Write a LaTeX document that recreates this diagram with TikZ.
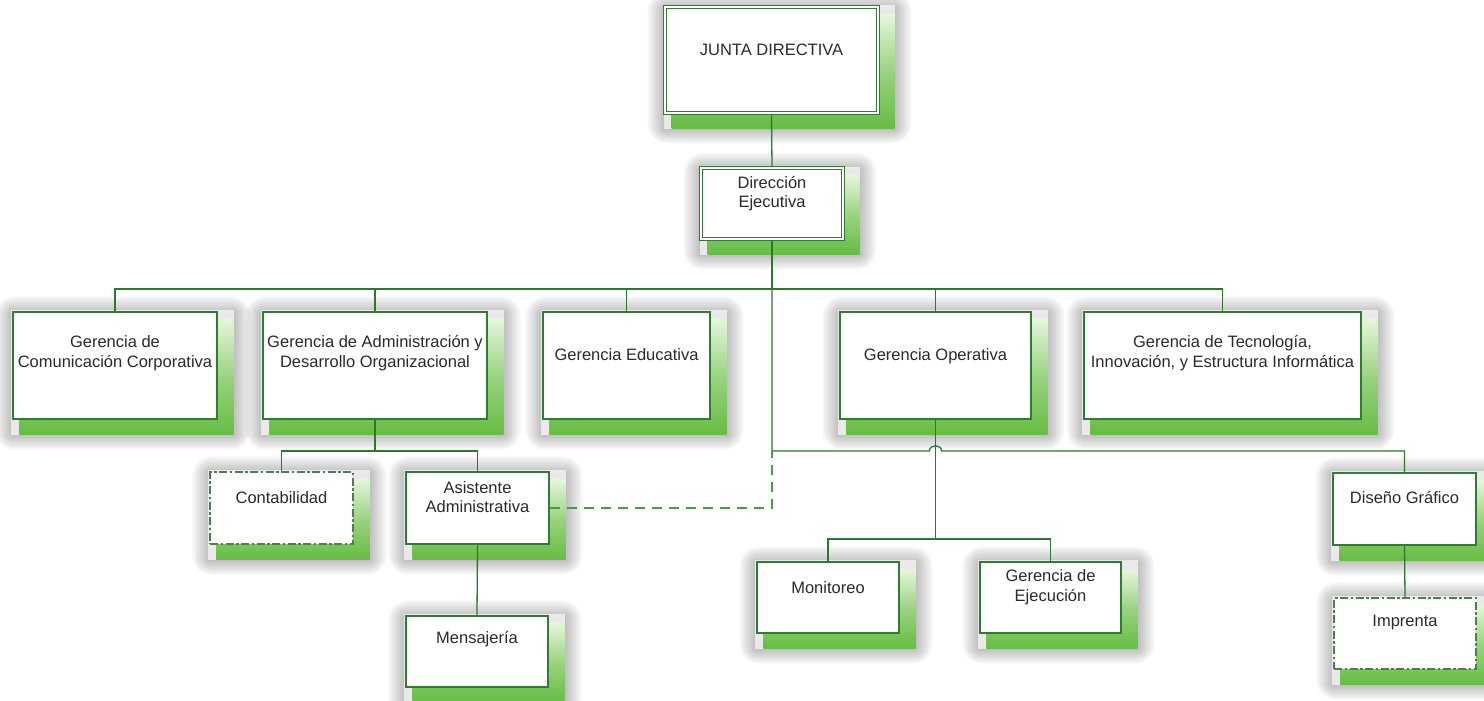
\documentclass[tikz,border=0pt]{standalone}
\usepackage{fontspec}
\setmainfont{Liberation Sans}
\usetikzlibrary{calc}

\definecolor{edge}{HTML}{2E7D32}
\definecolor{wire}{HTML}{2B7A2B}
\definecolor{leaf}{HTML}{66BC42}
\definecolor{leaflight}{HTML}{E6F5DC}
\definecolor{ink}{HTML}{2A2A2A}
\definecolor{dashedge}{HTML}{4E7E4E}
\definecolor{adhocwire}{HTML}{4C9A4C}

\pgfdeclarelayer{halo}
\pgfdeclarelayer{depth}
\pgfdeclarelayer{links}
\pgfsetlayers{halo,depth,links,main}

\begin{document}
\begin{tikzpicture}[x=1pt,y=-1pt,
  unit/.style={rectangle, draw=edge, line width=1.4pt, fill=white, inner sep=0pt},
  chief/.style={unit, line width=1pt, double=white, double distance=2pt},
  tentative/.style={unit, draw=dashedge, line width=1.6pt,
    dash pattern=on 8pt off 2.5pt on 2.5pt off 2.5pt},
  lbl/.style={anchor=center, align=center, text=ink, inner sep=0pt,
    font=\fontsize{16.5}{19.5}\selectfont},
  wirestyle/.style={draw=wire, line width=1.3pt},
  adhoc/.style={draw=adhocwire, line width=1.8pt, dash pattern=on 10pt off 7pt},
  depthshade/.style={top color=leaflight, bottom color=leaf, middle color=leaf!60!leaflight},
  haze/.style={fill=black, fill opacity=0.026},
]
\useasboundingbox (0,0) rectangle (1484,701);

% board and executive office
\node[chief, minimum width=213pt, minimum height=106pt,
  label={[lbl,yshift=-43pt]north:JUNTA DIRECTIVA}] (junta) at (771.5,60) {};
\node[chief, minimum width=142pt, minimum height=71pt,
  label={[lbl,yshift=-26pt]north:Dirección\\Ejecutiva}] (dir) at (772,203.5) {};

% management level
\node[unit, minimum width=204pt, minimum height=107pt,
  label={[lbl,yshift=-42pt]north:Gerencia de\\Comunicación Corporativa}] (comm) at (115,365.5) {};
\node[unit, minimum width=224pt, minimum height=107pt,
  label={[lbl,yshift=-42pt]north:Gerencia de Administración y\\Desarrollo Organizacional}] (admin) at (375,365.5) {};
\node[unit, minimum width=167pt, minimum height=107pt,
  label={[lbl,yshift=-43pt]north:Gerencia Educativa}] (educ) at (626.5,365.5) {};
\node[unit, minimum width=191pt, minimum height=107pt,
  label={[lbl,yshift=-45pt]north:Gerencia Operativa}] (oper) at (935.5,365.5) {};
\node[unit, minimum width=277pt, minimum height=107pt,
  label={[lbl,yshift=-42pt]north:Gerencia de Tecnología,\\Innovación, y Estructura Informática}] (tecno) at (1222.5,365.5) {};

% units below
\node[tentative, minimum width=143pt, minimum height=72pt,
  label={[lbl,yshift=-26pt]north:Contabilidad}] (conta) at (281.5,508) {};
\node[unit, minimum width=143pt, minimum height=72pt,
  label={[lbl,yshift=-26pt]north:Asistente\\Administrativa}] (asist) at (477.5,508) {};
\node[unit, minimum width=142pt, minimum height=71pt,
  label={[lbl,yshift=-24pt]north:Mensajería}] (mens) at (477,651.5) {};
\node[unit, minimum width=142pt, minimum height=71pt,
  label={[lbl,yshift=-26pt]north:Monitoreo}] (monit) at (828,597.5) {};
\node[unit, minimum width=141pt, minimum height=71pt,
  label={[lbl,yshift=-26pt]north:Gerencia de\\Ejecución}] (ejec) at (1050.5,597.5) {};
\node[unit, minimum width=143pt, minimum height=72pt,
  label={[lbl,yshift=-25pt]north:Diseño Gráfico}] (dis) at (1404.5,509) {};
\node[tentative, minimum width=142pt, minimum height=71pt,
  label={[lbl,yshift=-25pt]north:Imprenta}] (impr) at (1405,633.5) {};

% soft grey halo behind every box
\begin{pgfonlayer}{halo}
  \foreach \n in {junta,dir,comm,admin,educ,oper,tecno,conta,asist,mens,monit,ejec,dis,impr}
    \foreach \k in {1,...,10}
      \fill[haze, rounded corners=2*\k]
        ($(\n.north west)+(-1.7*\k,-1.7*\k+2)$) rectangle ($(\n.south east)+(16+1.7*\k,15+1.5*\k)$);
\end{pgfonlayer}

% green slab giving depth to every box
\begin{pgfonlayer}{depth}
  \foreach \n in {junta,dir,comm,admin,educ,oper,tecno,conta,asist,mens,monit,ejec,dis,impr}{
    \fill[white, fill opacity=0.65] ($(\n.north west)+(-1,-1)$) rectangle ($(\n.south east)+(16,15)$);
    \shade[depthshade] ($(\n.north west)+(7,8)$) rectangle ($(\n.south east)+(16,15)$);
  }
\end{pgfonlayer}

% connectors
\begin{pgfonlayer}{links}
  \coordinate (busA) at (0,289);
  \coordinate (busB) at (0,451);
  \coordinate (busC) at (0,539);

  \draw[wirestyle] (junta.south) -- (dir.north);
  \draw[wirestyle] (dir.south) -- (dir.south |- busA);
  \foreach \n in {comm,admin,educ,oper,tecno}
    \draw[wirestyle] (dir.south |- busA) -| (\n.north);
  \draw[wirestyle] (dir.south |- busA) -- (dir.south |- busB)
    -- ($(oper.south |- busB)+(-6,0)$) .. controls +(0,-7) and +(0,-7) .. ($(oper.south |- busB)+(6,0)$)
    -| (dis.north);

  \draw[wirestyle] (admin.south) -- (admin.south |- busB);
  \draw[wirestyle] (admin.south |- busB) -| (conta.north);
  \draw[wirestyle] (admin.south |- busB) -| (asist.north);
  \draw[wirestyle] (asist.south) -- (mens.north);

  \draw[wirestyle] (oper.south) -- (oper.south |- busC);
  \draw[wirestyle] (oper.south |- busC) -| (monit.north);
  \draw[wirestyle] (oper.south |- busC) -| (ejec.north);

  \draw[wirestyle] (dis.south) -- (impr.north);

  \draw[adhoc] (asist.east) -| (dir.south |- busB);
\end{pgfonlayer}
\end{tikzpicture}
\end{document}
